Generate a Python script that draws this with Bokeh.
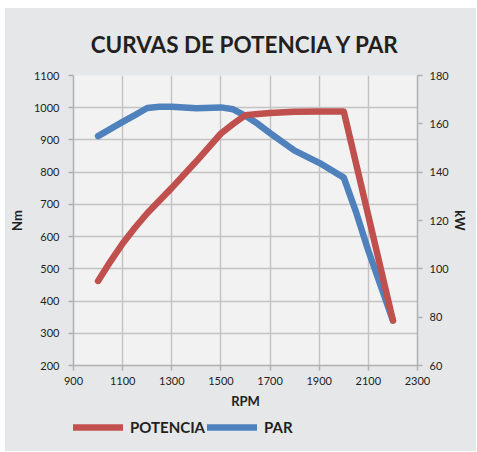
from bokeh.plotting import figure
from bokeh.layouts import column
from bokeh.models import (Range1d, LinearAxis, FixedTicker, Legend, LegendItem, Title)
from bokeh.embed import file_html
from bokeh.resources import INLINE

# ---- data ----
rpm_par = [1000, 1100, 1150, 1200, 1250, 1300, 1400, 1500, 1550, 1600, 1650, 1700,
           1800, 1900, 2000, 2050, 2100, 2200]
par_nm = [912, 956, 977, 999, 1003, 1003, 998, 1001, 995, 975, 950, 921,
          867, 829, 783, 676, 556, 340]
rpm_pot = [1000, 1050, 1100, 1150, 1200, 1300, 1400, 1500, 1550, 1600, 1650, 1700,
           1800, 1900, 2000, 2100, 2200]
potencia_kw = [95, 103, 110.5, 117, 123, 133.5, 144.5, 156, 160, 163.6, 164.1, 164.5,
               165, 165.1, 165.1, 122, 78.6]

x_ticks = [900, 1100, 1300, 1500, 1700, 1900, 2100, 2300]
nm_ticks = [200, 300, 400, 500, 600, 700, 800, 900, 1000, 1100]
kw_ticks = [60, 80, 100, 120, 140, 160, 180]
series_names = ["POTENCIA", "PAR"]

RED = "#c0504d"
BLUE = "#4f81bd"
TXT = "#231f20"
FONT = "Lato"
BG = "#e6e7e8"

p = figure(width=471, height=405, output_backend="svg", toolbar_location=None,
           x_range=Range1d(900, 2300), y_range=Range1d(200, 1100),
           min_border_left=65, min_border_right=59, min_border_top=67, min_border_bottom=48)
p.extra_y_ranges = {"kw": Range1d(60, 180)}

p.background_fill_color = "#f2f2f2"
p.border_fill_color = BG
p.outline_line_color = None

title = Title(text="CURVAS DE POTENCIA Y PAR", align="center", text_font=FONT,
              text_font_size="22.5px", text_font_style="bold", text_color=TXT,
              standoff=36, offset=-4)
p.add_layout(title, "above")

def style_axis(ax, label_pos_size="13px"):
    ax.axis_line_color = "#b0b0b0"
    ax.axis_line_width = 1.5
    ax.major_tick_line_color = "#b0b0b0"
    ax.major_tick_line_width = 1.5
    ax.major_tick_out = 5
    ax.major_tick_in = 0
    ax.minor_tick_line_color = None
    ax.major_label_text_font = FONT
    ax.major_label_text_font_size = "11px"
    ax.major_label_text_color = TXT
    ax.axis_label_text_font = FONT
    ax.axis_label_text_font_style = "bold"
    ax.axis_label_text_font_size = label_pos_size
    ax.axis_label_text_color = TXT

xa = p.xaxis[0]
xa.ticker = FixedTicker(ticks=x_ticks)
xa.axis_label = "RPM"
style_axis(xa, "13px")
xa.major_label_standoff = 6
xa.axis_label_standoff = 5

ya = p.yaxis[0]
ya.ticker = FixedTicker(ticks=nm_ticks)
ya.axis_label = "Nm"
style_axis(ya)
ya.major_label_standoff = 9
ya.axis_label_standoff = 6

ra = LinearAxis(y_range_name="kw", ticker=FixedTicker(ticks=kw_ticks), axis_label="kW")
style_axis(ra)
ra.major_label_standoff = 7
ra.axis_label_standoff = 0
p.add_layout(ra, "right")

p.xgrid.ticker = FixedTicker(ticks=x_ticks)
p.ygrid.ticker = FixedTicker(ticks=nm_ticks)
for g in (p.xgrid[0], p.ygrid[0]):
    g.grid_line_color = "#c3c3c3"
    g.grid_line_width = 1.4

r_par = p.line(rpm_par, par_nm, line_color=BLUE, line_width=6.5,
               line_cap="round", line_join="round")
r_pot = p.line(rpm_pot, potencia_kw, y_range_name="kw", line_color=RED, line_width=6.5,
               line_cap="round", line_join="round")

# legend strip below the chart (its own small canvas; the swatches are off-range)
leg = figure(width=471, height=38, output_backend="svg", toolbar_location=None,
             x_range=Range1d(0, 1), y_range=Range1d(0, 1),
             min_border_left=0, min_border_right=0, min_border_top=0, min_border_bottom=0)
leg.axis.visible = False
leg.grid.visible = False
leg.background_fill_alpha = 0
leg.border_fill_color = BG
leg.outline_line_color = None
l_pot = leg.line(x=[-2, -1], y=[-2, -2], line_color=RED, line_width=6.5, line_cap="round")
l_par = leg.line(x=[-2, -1], y=[-2, -2], line_color=BLUE, line_width=6.5, line_cap="round")

legend = Legend(items=[LegendItem(label=series_names[0], renderers=[l_pot]),
                       LegendItem(label=series_names[1], renderers=[l_par])],
                orientation="horizontal", location=(0, 15),
                glyph_width=50, glyph_height=14, label_standoff=7, spacing=2,
                padding=0, margin=0,
                label_text_font=FONT, label_text_font_size="15px",
                label_text_font_style="bold", label_text_color=TXT,
                background_fill_alpha=0, border_line_alpha=0)
leg.add_layout(legend, "center")

layout = column(p, leg, spacing=0,
                styles={"margin-left": "5px", "margin-top": "8px", "background-color": BG})

open("out.html", "w").write(file_html(layout, INLINE))
